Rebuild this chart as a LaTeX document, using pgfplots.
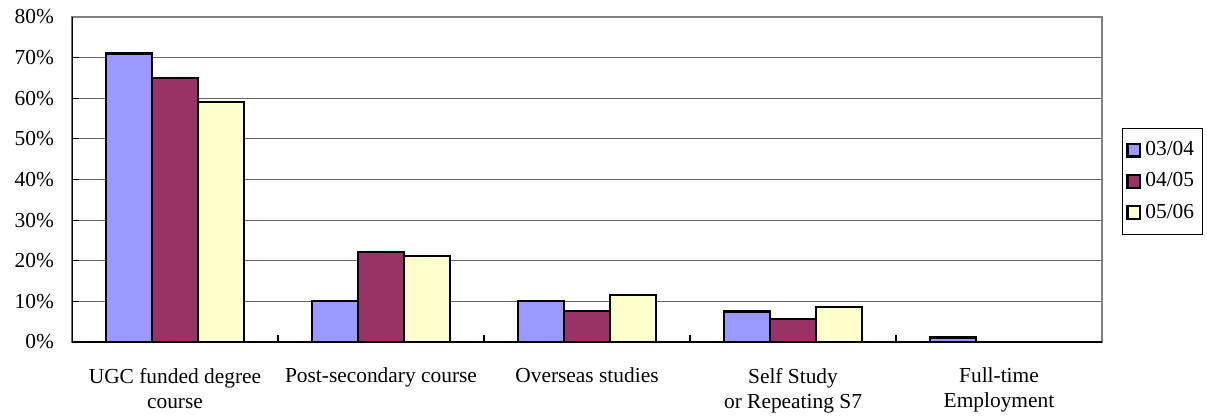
\documentclass[border=0pt]{standalone}
\usepackage{fontspec}
\setmainfont{Liberation Serif}
\usepackage{pgfplots}
\pgfplotsset{compat=1.18}
\definecolor{c1}{HTML}{9999FF}
\definecolor{c2}{HTML}{993366}
\definecolor{c3}{HTML}{FFFFCC}

\begin{document}
\begin{tikzpicture}[font=\fontsize{10.7}{12.5}\selectfont]
\begin{axis}[
    at={(0,0)}, anchor=south west,
    scale only axis,
    width=515pt, height=162.5pt,
    ybar=0pt,
    bar width=0.223,
    xmin=-0.5, xmax=4.5,
    ymin=0, ymax=80,
    xtick={0,1,2,3,4},
    xticklabels={UGC funded degree\\course, Post-secondary course, Overseas studies, Self Study\\or Repeating S7, Full-time\\Employment},
    xticklabel style={align=center, yshift=-9.5pt},
    minor xtick={0.5,1.5,2.5,3.5},
    major x tick style={draw=none},
    minor tick length=3.5pt,
    major tick length=3.5pt,
    tick align=inside,
    tick pos=left,
    tick style={black, line width=0.6pt},
    ytick={0,10,...,80},
    yticklabels={0\%,10\%,20\%,30\%,40\%,50\%,60\%,70\%,80\%},
    yticklabel style={xshift=-5.5pt},
    ymajorgrids,
    grid style={black!60, line width=0.5pt},
    axis line style={black!50, line width=0.6pt},
    every axis plot/.append style={draw=black, line width=1.1pt},
    legend style={at={(axis description cs:1.0194,0.6585)}, anchor=north west,
        draw=black, line width=0.4pt, inner xsep=2pt, inner ysep=4.5pt,
        row sep=3pt, legend cell align=left, font=\fontsize{10.7}{12}\selectfont,
        /tikz/every odd column/.style={column sep=0pt}},
    legend image code/.code={\draw[#1, line width=1.1pt] (0pt,-3.2pt) rectangle (6.4pt,3.2pt);},
]
\addplot[fill=c1] coordinates {(0,71) (1,10) (2,10) (3,7.5) (4,1.1)};
\addplot[fill=c2] coordinates {(0,65) (1,22.2) (2,7.6) (3,5.7)};
\addplot[fill=c3] coordinates {(0,59) (1,21.1) (2,11.5) (3,8.7)};
\legend{03/04, 04/05, 05/06}
\draw[black, line width=0.6pt] (rel axis cs:0,1) -- (rel axis cs:0,0) -- (rel axis cs:1,0);
\end{axis}
\pgfresetboundingbox
\path[use as bounding box] (-36pt,-38.5pt) rectangle (567.5pt,171pt);
\end{tikzpicture}
\end{document}
